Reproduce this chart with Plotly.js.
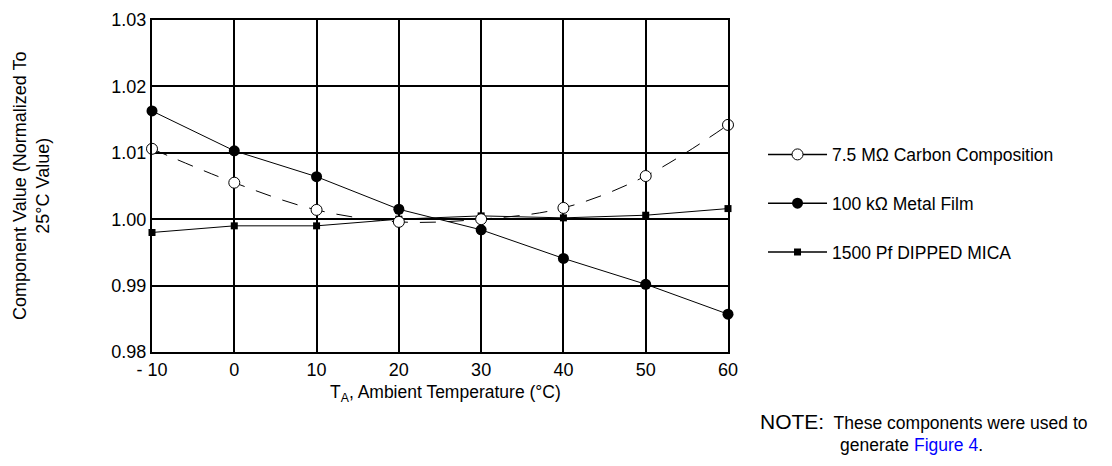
<!DOCTYPE html>
<html><head><meta charset="utf-8">
<script src="https://cdn.plot.ly/plotly-3.0.1.min.js"></script>
<style>html,body{margin:0;padding:0;background:#fff}#c{width:1112px;height:466px}</style>
</head><body><div id="c"></div>
<script>
const temps = [-10, 0, 10, 20, 30, 40, 50, 60];
const carbonComp = [1.0106, 1.0055, 1.0014, 0.9996, 1.0000, 1.0017, 1.0065, 1.0142];
const metalFilm = [1.0163, 1.0103, 1.0064, 1.0015, 0.9984, 0.9941, 0.9902, 0.9857];
const dippedMica = [0.9980, 0.9990, 0.9990, 1.0000, 1.0005, 1.0002, 1.0006, 1.0016];
const seriesNames = ['7.5 MΩ Carbon Composition', '100 kΩ Metal Film', '1500 Pf DIPPED MICA'];
const xTickVals = [-10, 0, 10, 20, 30, 40, 50, 60];
const xTickText = ['- 10', '0', '10', '20', '30', '40', '50', '60'];
const yTickVals = [0.98, 0.99, 1.00, 1.01, 1.02, 1.03];
const yTickText = ['0.98', '0.99', '1.00', '1.01', '1.02', '1.03'];

const FONT = 'Liberation Sans, Arial, Helvetica, sans-serif';
const traces = [
  {x: temps, y: dippedMica, mode: 'lines+markers', showlegend: false, cliponaxis: false,
   line: {color: '#000', width: 1}, marker: {symbol: 'square', size: 7, color: '#000'}},
  {x: temps, y: metalFilm, mode: 'lines+markers', showlegend: false, cliponaxis: false,
   line: {color: '#000', width: 1}, marker: {symbol: 'circle', size: 11, color: '#000'}},
  {x: temps, y: carbonComp, mode: 'lines+markers', showlegend: false, cliponaxis: false,
   line: {color: '#000', width: 1, dash: '16px,12px', shape: 'spline', smoothing: 1.0},
   marker: {symbol: 'circle', size: 11, color: '#fff', line: {color: '#000', width: 1}}},
  {x: [null], y: [null], name: seriesNames[0], legendgroup: 'a', mode: 'lines+markers',
   line: {color: '#000', width: 1.5}, marker: {symbol: 'circle', size: 11, color: '#fff', line: {color: '#000', width: 1}}},
  {x: [null], y: [null], name: seriesNames[1], legendgroup: 'b', mode: 'lines+markers',
   line: {color: '#000', width: 1.5}, marker: {symbol: 'circle', size: 11, color: '#000'}},
  {x: [null], y: [null], name: seriesNames[2], legendgroup: 'c', mode: 'lines+markers',
   line: {color: '#000', width: 1.5}, marker: {symbol: 'square', size: 7, color: '#000'}}
];

const layout = {
  width: 1112, height: 466,
  margin: {l: 152, r: 384, t: 20, b: 114},
  paper_bgcolor: '#fff', plot_bgcolor: '#fff',
  font: {family: FONT, size: 17, color: '#000'},
  showlegend: true,
  legend: {x: 1.0608, xanchor: 'left', y: 0.649, yanchor: 'top', traceorder: 'grouped',
           tracegroupgap: 23, itemwidth: 59, font: {family: FONT, size: 17.5, color: '#000'},
           bgcolor: 'rgba(0,0,0,0)'},
  xaxis: {range: [-10, 60], tickmode: 'array', tickvals: xTickVals, ticktext: xTickText,
          showgrid: true, gridcolor: '#000', gridwidth: 2, zeroline: false,
          showline: true, linecolor: '#000', linewidth: 2, mirror: true, ticks: '',
          tickfont: {family: FONT, size: 18}, fixedrange: true},
  yaxis: {range: [0.98, 1.03], tickmode: 'array', tickvals: yTickVals, ticktext: yTickText,
          showgrid: true, gridcolor: '#000', gridwidth: 2, zeroline: false,
          showline: true, linecolor: '#000', linewidth: 2, mirror: true, ticks: '',
          tickfont: {family: FONT, size: 18}, fixedrange: true},
  annotations: [
    {xref: 'paper', yref: 'paper', x: -0.21, y: 0.5, xanchor: 'center', yanchor: 'middle',
     textangle: -90, showarrow: false, align: 'center',
     text: 'Component Value (Normalized To<br>25°C Value)', font: {family: FONT, size: 18}},
    {xref: 'paper', yref: 'paper', x: 0.5087, y: -0.084, xanchor: 'center', yanchor: 'top',
     showarrow: false, text: 'T<sub>A</sub>, Ambient Temperature (°C)', font: {family: FONT, size: 17.5}},
    {xref: 'paper', yref: 'paper', x: 1.052, y: -0.17, xanchor: 'left', yanchor: 'top',
     showarrow: false, align: 'left',
     text: '<span style="font-size:21px">NOTE:</span>  These components were used to', font: {family: FONT, size: 17.5}},
    {xref: 'paper', yref: 'paper', x: 1.191, y: -0.245, xanchor: 'left', yanchor: 'top',
     showarrow: false, align: 'left',
     text: 'generate <span style="color:#0000ff">Figure 4</span>.', font: {family: FONT, size: 17.5}}
  ]
};
Plotly.newPlot('c', traces, layout, {displayModeBar: false, staticPlot: true});
</script></body></html>
